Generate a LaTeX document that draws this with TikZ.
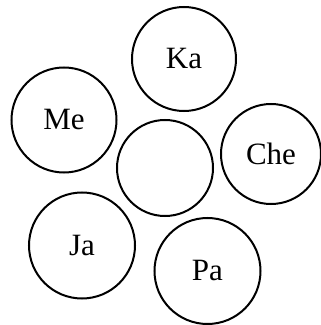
\documentclass[tikz,border=0pt]{standalone}
\usepackage{fontspec}
\setmainfont{Liberation Serif}
\begin{document}
\begin{tikzpicture}[x=1pt,y=1pt,
  ring/.style={circle,draw=black,line width=2pt,inner sep=0pt,minimum size=#1,font=\fontsize{31}{33}\selectfont}]
\useasboundingbox (0,0) rectangle (321,325);
\node[ring=104pt] (ka)  at (184,266) {Ka};
\node[ring=105pt] (me)  at (64,205) {Me};
\node[ring=96pt]  (mid) at (165,157) {};
\node[ring=100pt] (che) at (271,171) {Che};
\node[ring=106pt] (ja)  at (82,79.5) {Ja};
\node[ring=106pt] (pa)  at (207.5,54) {Pa};
\end{tikzpicture}
\end{document}
